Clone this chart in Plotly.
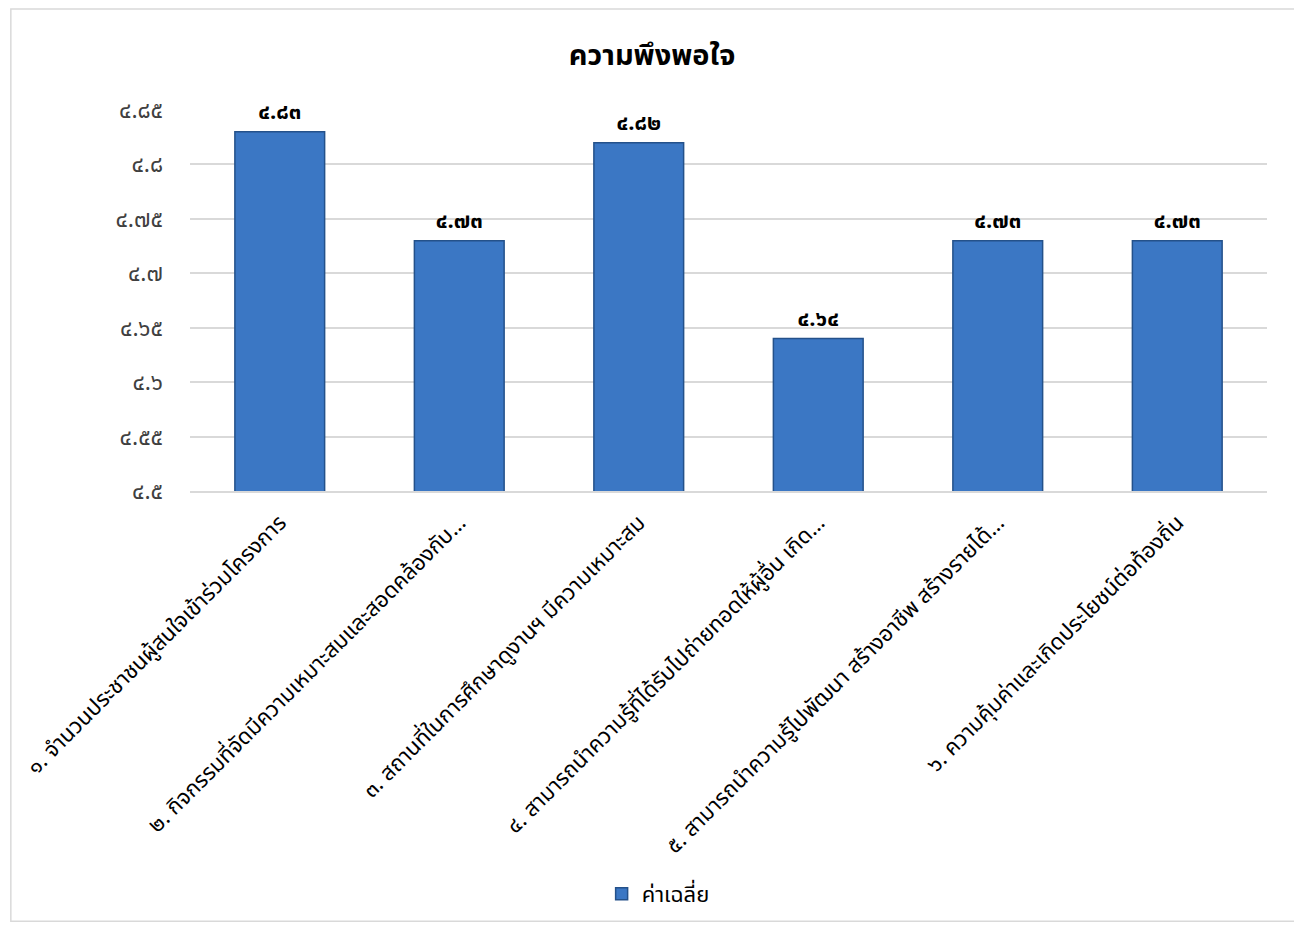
import plotly.graph_objects as go

categories = [
    "๑. จำนวนประชาชนผู้สนใจเข้าร่วมโครงการ",
    "๒. กิจกรรมที่จัดมีความเหมาะสมและสอดคล้องกับ…",
    "๓. สถานที่ในการศึกษาดูงานฯ มีความเหมาะสม",
    "๔. สามารถนำความรู้ที่ได้รับไปถ่ายทอดให้ผู้อื่น เกิด…",
    "๕. สามารถนำความรู้ไปพัฒนา สร้างอาชีพ สร้างรายได้…",
    "๖. ความคุ้มค่าและเกิดประโยชน์ต่อท้องถิ่น",
]
values = [4.83, 4.73, 4.82, 4.64, 4.73, 4.73]
tick_vals = [4.5, 4.55, 4.6, 4.65, 4.7, 4.75, 4.8, 4.85]
tick_text = ["๔.๕", "๔.๕๕", "๔.๖", "๔.๖๕", "๔.๗", "๔.๗๕", "๔.๘", "๔.๘๕"]
series_name = "ค่าเฉลี่ย"
title_text = "ความพึงพอใจ"

THAI = str.maketrans("0123456789", "๐๑๒๓๔๕๖๗๘๙")
labels = [f"{v:g}".translate(THAI) for v in values]

FONT = "Noto Sans Thai, Tahoma, Noto Sans, sans-serif"

# page is drawn with an 8px body margin; coordinates below are figure coords
OFF = 8
W, H = 1288, 918
L, T = 188 - OFF, 110 - OFF
R_EDGE, B_EDGE = 1267 - OFF, 493 - OFF
pw = R_EDGE - L
ph = B_EDGE - T

def px(x):
    return (x - OFF - L) / pw

def py(y):
    return (B_EDGE - (y - OFF)) / ph

fig = go.Figure()
fig.add_trace(go.Bar(
    x=categories, y=values, name=series_name,
    text=labels, textposition="outside", cliponaxis=False,
    textfont=dict(size=22, color="#000000", family=FONT, weight="bold"),
    marker=dict(color="#3B77C4", line=dict(color="#24518A", width=1.5)),
    showlegend=True,
))

fig.update_layout(
    width=W, height=H,
    margin=dict(l=L, r=W - R_EDGE, t=T, b=H - B_EDGE),
    paper_bgcolor="white", plot_bgcolor="white",
    font=dict(family=FONT, color="#000000"),
    title=dict(text=f"<b>{title_text}</b>", x=0.5, xref="container", xanchor="center",
               y=1 - (55 - OFF) / H, yref="container", yanchor="middle",
               font=dict(size=29, color="#000000", family=FONT)),
    bargap=0.5,
    xaxis=dict(tickangle=-45, tickfont=dict(size=22, color="#000000"),
               ticklabelstandoff=8,
               showline=True, linecolor="#D9D9D9", linewidth=2, ticks="", showgrid=False),
    yaxis=dict(range=[4.5, 4.85], tickvals=tick_vals, ticktext=tick_text,
               tickfont=dict(size=23, color="#404040"), showgrid=True,
               ticklabelstandoff=26,
               gridcolor="#D9D9D9", gridwidth=2, zeroline=False, ticks="",
               ticklen=0, showline=False),
    legend=dict(orientation="h", x=px(657), xanchor="center", y=py(898), yanchor="middle",
                font=dict(size=22, color="#000000"), bgcolor="rgba(0,0,0,0)"),
    shapes=[dict(type="rect", xref="paper", yref="paper",
                 x0=px(8.5), x1=px(1295.5), y0=py(925.5), y1=py(8.5),
                 line=dict(color="#D9D9D9", width=1.5), fillcolor="rgba(0,0,0,0)", layer="below")],
)

fig.write_html("out.html")
